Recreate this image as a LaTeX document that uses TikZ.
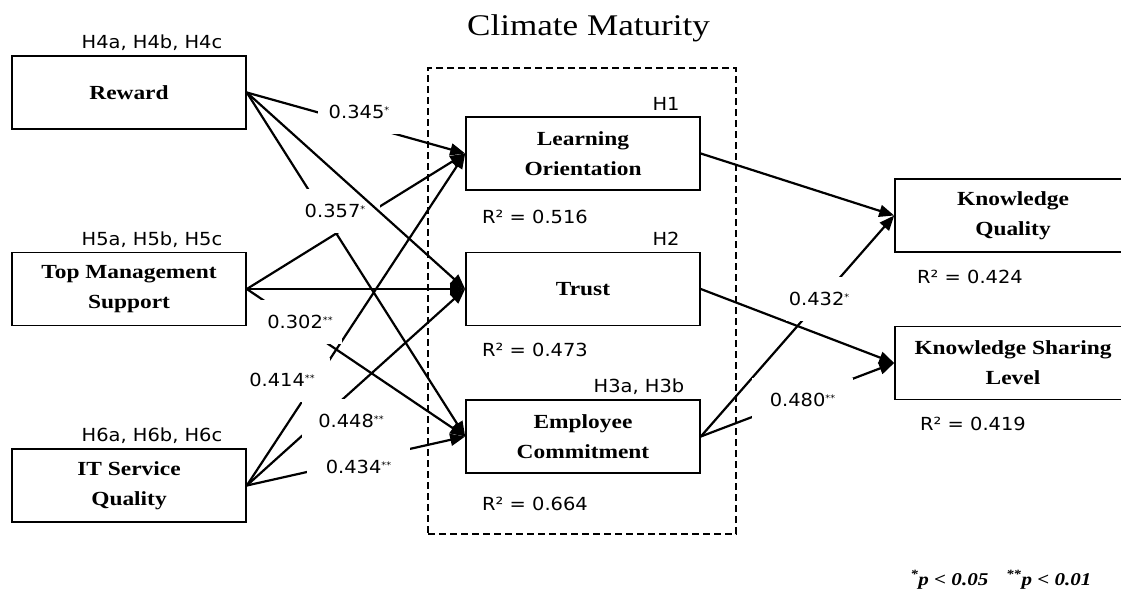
\documentclass[tikz,border=0pt]{standalone}
\usepackage{fontspec}
\setmainfont{Liberation Serif}[FakeStretch=1.17]
\newfontfamily\numfont{DejaVu Sans}[FakeStretch=1.08]
\usetikzlibrary{arrows.meta}
% small raised significance marks
\newcommand\pstar[1]{\raisebox{5pt}{\fontsize{9}{9}\selectfont #1}}
\begin{document}
\begin{tikzpicture}[x=1pt,y=-1pt,
  construct/.style={draw, line width=1.6pt, minimum width=234pt, minimum height=73pt,
    inner sep=0pt, align=center, font=\fontsize{20}{30}\selectfont\bfseries},
  note/.style={font=\numfont\fontsize{18}{22}\selectfont, inner sep=0pt, anchor=base},
  coef/.style={fill=white, inner sep=0pt, minimum height=44pt,
    font=\numfont\fontsize{18}{22}\selectfont},
  link/.style={line width=2.2pt, -{Triangle[length=15pt,width=12pt]}},
  frame/.style={draw, line width=2.6pt, dash pattern=on 7pt off 4pt, inner sep=0pt}
]
\useasboundingbox (0,0) rectangle (1121,606);

% title and dashed frame of the climate constructs
\node[font=\fontsize{30}{36}\selectfont, anchor=base] (title) at (588.5,35) {Climate Maturity};
\node[frame, minimum width=308pt, minimum height=466pt] (climate) at (582,301) {};

% antecedents
\node[construct] (reward) at (129,92.5) {Reward};
\node[construct] (tms) at (129,289) {Top Management\\Support};
\node[construct] (itsq) at (129,485.5) {IT Service\\Quality};

% climate constructs
\node[construct] (lo) at (583,153.5) {Learning\\Orientation};
\node[construct] (trust) at (583,289) {Trust};
\node[construct] (ec) at (583,436.5) {Employee\\Commitment};

% outcomes
\node[construct, minimum width=236pt] (kq) at (1013,215.5) {Knowledge\\Quality};
\node[construct, minimum width=236pt] (ksl) at (1013,363) {Knowledge Sharing\\Level};

% hypotheses
\node[note] (h4) at (152,48.3) {H4a, H4b, H4c};
\node[note] (h5) at (152,245) {H5a, H5b, H5c};
\node[note] (h6) at (152,441.7) {H6a, H6b, H6c};
\node[note] (h1) at (666,110) {H1};
\node[note] (h2) at (666,245) {H2};
\node[note] (h3) at (639,392.7) {H3a, H3b};

% explained variance
\node[note, anchor=base west] (r2lo) at (482,223) {R² = 0.516};
\node[note, anchor=base west] (r2tr) at (482,356.7) {R² = 0.473};
\node[note, anchor=base west] (r2ec) at (482,510.7) {R² = 0.664};
\node[note, anchor=base west] (r2kq) at (917,283) {R² = 0.424};
\node[note, anchor=base west] (r2ksl) at (920,430.7) {R² = 0.419};

% structural paths
\draw[link] (reward.east) -- (lo.west);
\draw[link] (reward.east) -- (ec.west);
\draw[link] (tms.east) -- (lo.west);
\draw[link] (tms.east) -- (trust.west);
\draw[link] (tms.east) -- (ec.west);
\draw[link] (itsq.east) -- (lo.west);
\draw[link] (itsq.east) -- (trust.west);
\draw[link] (itsq.east) -- (ec.west);
\draw[link] (lo.east) -- (kq.west);
\draw[link] (trust.east) -- (ksl.west);
\draw[link] (ec.east) -- (kq.west);
\draw[link] (ec.east) -- (ksl.west);

% path coefficients
\node[coef, minimum width=82pt] (c345) at (359,112) {0.345\pstar{*}};
\node[coef, minimum width=90pt] (c357) at (335,211) {0.357\pstar{*}};
\node[coef, minimum width=84pt] (c302) at (300,322) {0.302\pstar{**}};
\node[coef, minimum width=96pt] (c414) at (282,380) {0.414\pstar{**}};
\node[coef, minimum width=98pt] (c448) at (351,421) {0.448\pstar{**}};
\node[coef, minimum width=103pt] (c434) at (358.5,467) {0.434\pstar{**}};
\node[coef, minimum width=66pt] (c432) at (819,299) {0.432\pstar{*}};
\node[coef, minimum width=101pt] (c480) at (802.5,400) {0.480\pstar{**}};

% drawn over the coefficient labels
\draw[link] (reward.east) -- (trust.west);

% significance legend
\node[font=\fontsize{18}{22}\selectfont\bfseries\itshape, anchor=base] (legend) at (1001,585)
  {\textsuperscript{*}p < 0.05\quad \textsuperscript{**}p < 0.01};
\end{tikzpicture}
\end{document}
